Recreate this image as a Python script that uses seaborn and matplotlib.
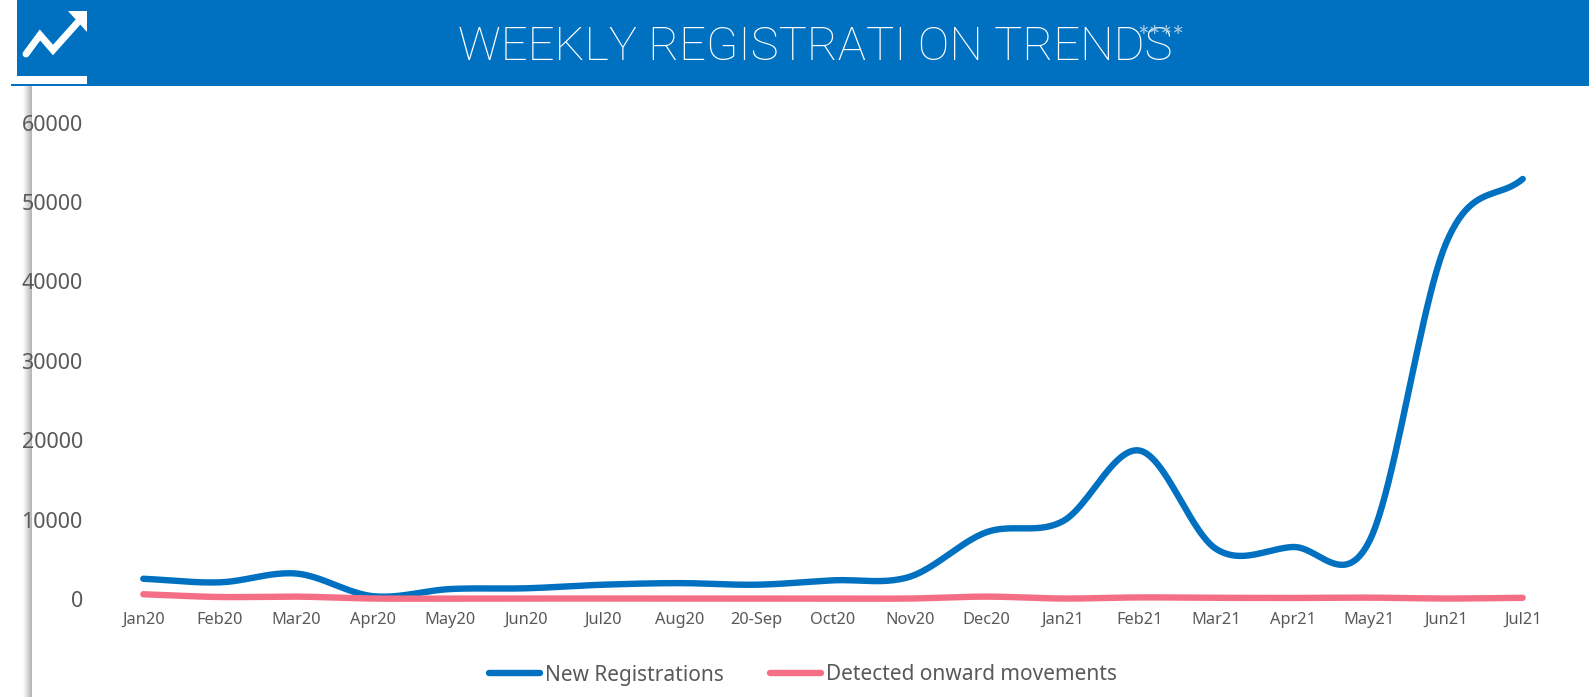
import numpy as np
import matplotlib
matplotlib.use('Agg')
import matplotlib.pyplot as plt
from matplotlib.patches import Rectangle
import seaborn as sns

months = ['Jan20', 'Feb20', 'Mar20', 'Apr20', 'May20', 'Jun20', 'Jul20', 'Aug20', '20-Sep', 'Oct20',
          'Nov20', 'Dec20', 'Jan21', 'Feb21', 'Mar21', 'Apr21', 'May21', 'Jun21', 'Jul21']
new_reg = [2550, 2100, 3200, 350, 1250, 1350, 1800, 2000, 1800, 2350,
           2800, 8400, 9800, 18700, 6300, 6550, 7300, 44800, 52900]
onward = [600, 250, 300, 60, 60, 60, 60, 60, 60, 60,
          60, 300, 60, 200, 150, 130, 170, 60, 150]

W, H = 1589, 697
BLUE = '#0070C0'
PINK = '#F46F85'
GREY = '#595959'


def smooth(vals, n=24):
    # same kind of smoothing the spreadsheet line uses (catmull-rom between the monthly values)
    p = np.array([2 * vals[0] - vals[1]] + list(vals) + [2 * vals[-1] - vals[-2]], dtype=float)
    xs, ys = [], []
    for i in range(1, len(p) - 2):
        t = np.linspace(0, 1, n, endpoint=False)
        y = 0.5 * (2 * p[i] + (p[i + 1] - p[i - 1]) * t
                   + (2 * p[i - 1] - 5 * p[i] + 4 * p[i + 1] - p[i + 2]) * t ** 2
                   + (3 * p[i] - p[i - 1] - 3 * p[i + 1] + p[i + 2]) * t ** 3)
        xs.extend(i - 1 + t)
        ys.extend(y)
    xs.append(len(vals) - 1)
    ys.append(vals[-1])
    return np.array(xs), np.array(ys)


sns.set_style('white')
plt.rcParams['font.family'] = ['Noto Sans', 'DejaVu Sans']

fig = plt.figure(figsize=(W / 100, H / 100), dpi=100)

# shadow down the left edge, under the tick labels
band = fig.add_axes([23 / W, 0, 9 / W, 1 - 86 / H], zorder=0)
band.imshow(np.linspace(1.0, 0.7, 30).reshape(1, -1), cmap='gray', vmin=0, vmax=1, aspect='auto')
band.axis('off')

ax = fig.add_axes([105 / W, 1 - 599 / H, (1561 - 105) / W, (599 - 122.6) / H], zorder=1)
ax.patch.set_alpha(0)

x, y = smooth(new_reg)
sns.lineplot(x=x, y=y, ax=ax, color=BLUE, lw=4.6, label='New Registrations', clip_on=False,
             solid_capstyle='round')
x, y = smooth(onward)
sns.lineplot(x=x, y=y, ax=ax, color=PINK, lw=4.6, label='Detected onward movements', clip_on=False,
             solid_capstyle='round')

ax.set_xlim(-0.5, 18.5)
ax.set_ylim(0, 60000)
ax.set_xticks(range(len(months)))
ax.set_xticklabels(months, fontsize=11.8, color=GREY)
ax.set_yticks(range(0, 60001, 10000))
ax.tick_params(axis='y', labelsize=15.5, labelcolor=GREY, length=0, pad=16)
ax.tick_params(axis='x', length=0, pad=9)
sns.despine(ax=ax, left=True, bottom=True)

ax.legend(loc='center', bbox_to_anchor=(803 / W, 1 - 675 / H), bbox_transform=fig.transFigure, ncol=2,
          frameon=False, fontsize=15, labelcolor=GREY, handlelength=2.45, handletextpad=0.2,
          columnspacing=2.25)

# header band
fig.add_artist(Rectangle((17 / W, 1 - 86 / H), (W - 17) / W, 86 / H, color=BLUE, lw=0))
fig.add_artist(Rectangle((17 / W, 1 - 84 / H), 70 / W, 8 / H, color='white', lw=0))
fig.add_artist(Rectangle((11 / W, 1 - 86 / H), 76 / W, 2 / H, color=BLUE, lw=0))

# arrow icon
fig.add_artist(plt.Line2D(np.array([26, 40, 53, 78]) / W, 1 - np.array([54, 35, 50, 22]) / H,
                          color='white', lw=5, solid_joinstyle='miter'))
fig.add_artist(plt.Polygon([(68 / W, 1 - 11 / H), (87 / W, 1 - 11 / H), (87 / W, 1 - 32 / H)],
                           color='white', lw=0))

fig.text(458 / W, 1 - 47.5 / H, 'WEEKLY REGISTRATI ON TRENDS', color='white', fontsize=34,
         family='Roboto', weight='light', va='center', ha='left')
fig.text(1161 / W, 1 - 39 / H, '****', color='#A9CCE8', fontsize=20, family='Lato',
         va='center', ha='center')

fig.savefig('out.png', dpi=100)
